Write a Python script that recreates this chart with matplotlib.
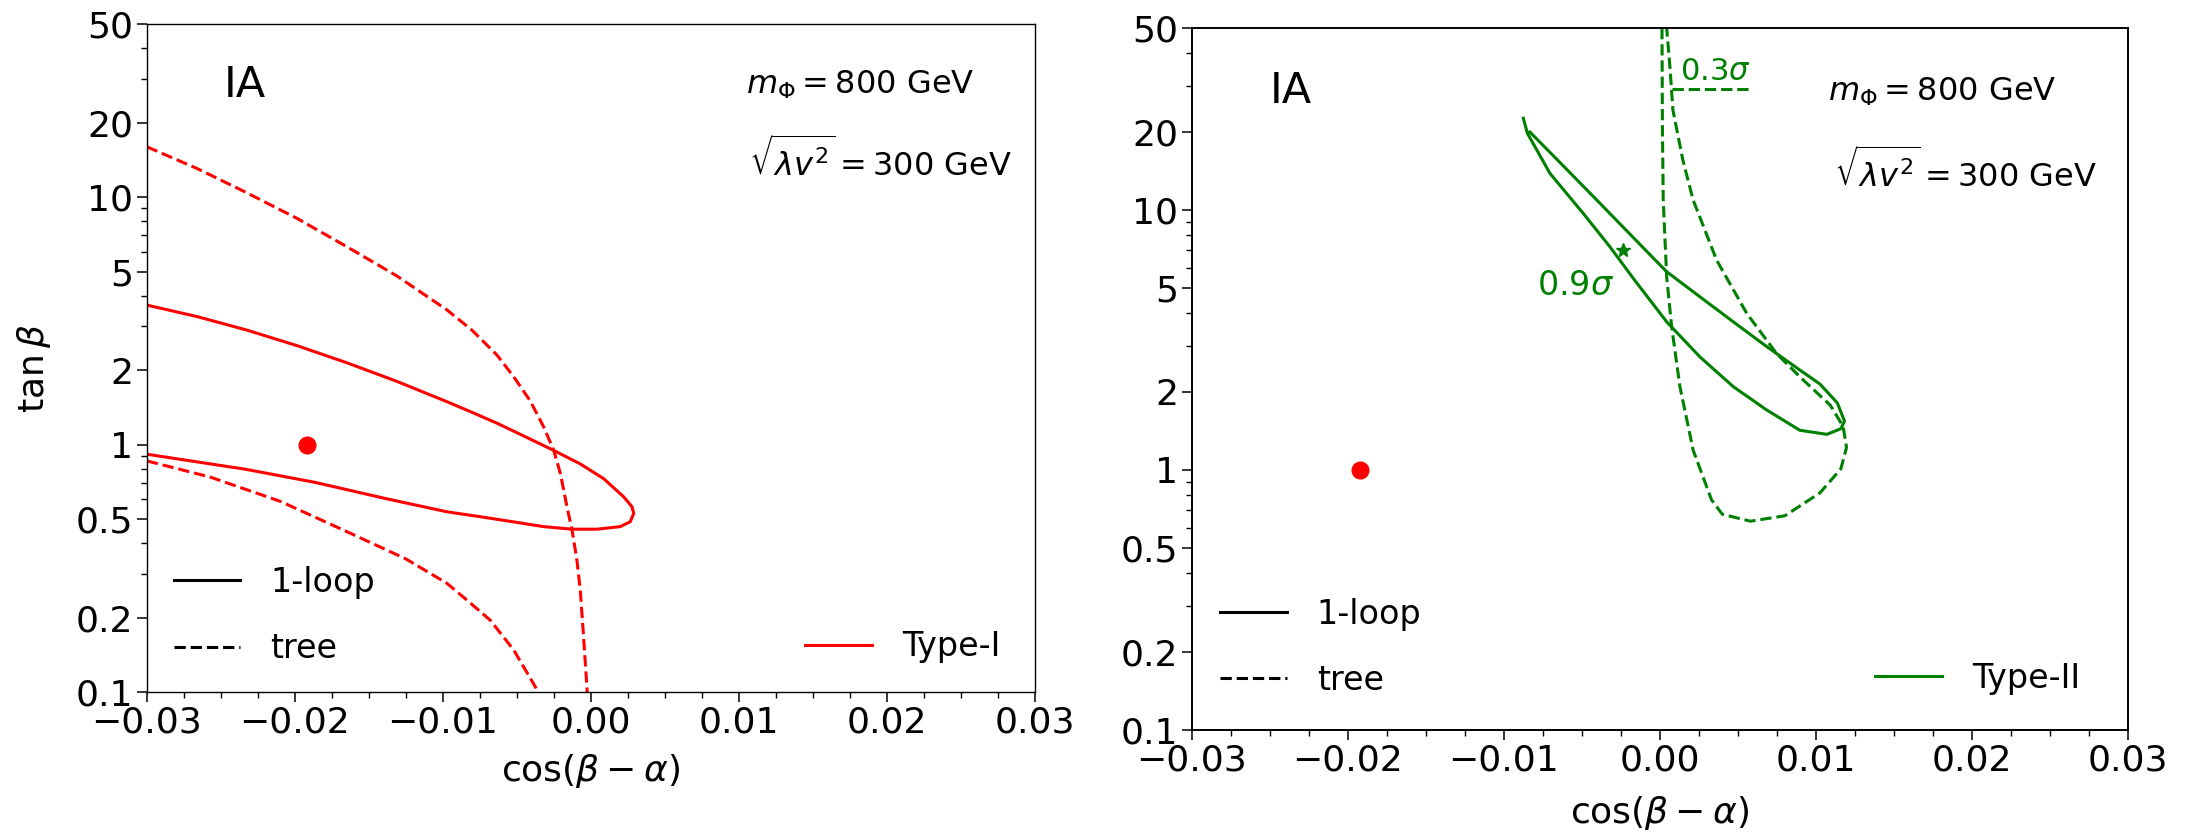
import matplotlib.pyplot as plt
from matplotlib.lines import Line2D
from matplotlib.ticker import FixedLocator, MultipleLocator, LogLocator, NullFormatter

# axis ticks
xticks = [-0.03, -0.02, -0.01, 0.00, 0.01, 0.02, 0.03]
xtick_labels = ["\u22120.03", "\u22120.02", "\u22120.01", "0.00", "0.01", "0.02", "0.03"]
yticks = [0.1, 0.2, 0.5, 1, 2, 5, 10, 20, 50]
ytick_labels = ["0.1", "0.2", "0.5", "1", "2", "5", "10", "20", "50"]

# benchmark point (both panels)
pt_x = [-0.0192]
pt_y = [1.0]

# left panel, Type-I
t1_loop_x = [-0.030, -0.02662, -0.02324, -0.01986, -0.01649, -0.01311, -0.00973, -0.00804,
             -0.00635, -0.00444, -0.00252, -0.00072, 0.00086, 0.00221, 0.00277, 0.00289,
             0.00266, 0.00198, 0.00041, -0.00128, -0.0032, -0.00522, -0.00748, -0.00973,
             -0.01387, -0.01862, -0.02336, -0.030]
t1_loop_y = [3.66, 3.29, 2.90, 2.51, 2.14, 1.80, 1.49, 1.35,
             1.22, 1.076, 0.947, 0.835, 0.728, 0.615, 0.561, 0.527,
             0.488, 0.466, 0.455, 0.455, 0.466, 0.487, 0.511, 0.535,
             0.605, 0.703, 0.795, 0.914]
t1_tree_up_x = [-0.030, -0.02662, -0.02324, -0.01986, -0.01649, -0.01311, -0.00973, -0.00804,
                -0.00635, -0.00522, -0.0041, -0.0032, -0.00252, -0.00207, -0.00162, -0.00128,
                -0.00095, -0.00072, -0.0005, -0.00025]
t1_tree_up_y = [15.96, 13.05, 10.4, 8.2, 6.3, 4.8, 3.5, 2.9,
                2.3, 1.88, 1.50, 1.18, 0.95, 0.766, 0.561, 0.452,
                0.342, 0.258, 0.168, 0.1]
t1_tree_lo_x = [-0.030, -0.0257, -0.021, -0.01625, -0.0125, -0.00973, -0.00826, -0.0068,
                -0.00522, -0.00376, -0.0036]
t1_tree_lo_y = [0.859, 0.738, 0.59, 0.438, 0.345, 0.275, 0.232, 0.195,
                0.148, 0.105, 0.1]

# right panel, Type-II
t2_loop_x = [-0.00876, -0.0085, -0.00705, -0.00492, -0.00321, -0.00171, 0.00043, 0.00256,
             0.0047, 0.00684, 0.00897, 0.0107, 0.0116, 0.01183, 0.01137, 0.01025,
             0.00897, 0.00684, 0.0047, 0.00256, 0.00043, -0.00128, -0.00385, -0.00641,
             -0.00833]
t2_loop_y = [22.5, 19.7, 13.8, 9.69, 7.21, 5.45, 3.71, 2.72,
             2.09, 1.70, 1.42, 1.37, 1.44, 1.54, 1.81, 2.14,
             2.42, 2.98, 3.71, 4.63, 5.78, 7.36, 10.6, 15.2,
             19.9]
t2_tree_x = [0.00013, 0.00016, 0.00021, 0.00043, 0.00075, 0.00128, 0.00213, 0.00331,
             0.0040, 0.0058, 0.0080, 0.01025, 0.0116, 0.01196, 0.01174, 0.01093,
             0.00897, 0.00748, 0.00556, 0.00363, 0.00213, 0.00147, 0.00083, 0.00064,
             0.00043]
t2_tree_y = [50, 20, 10.9, 5.53, 3.55, 2.09, 1.19, 0.766,
             0.675, 0.635, 0.666, 0.815, 1.01, 1.22, 1.47, 1.77,
             2.28, 2.80, 4.0, 6.41, 10.9, 15.5, 24.2, 35.4,
             50]
t2_tree_bar_x = [0.00077, 0.0058]
t2_tree_bar_y = [29.1, 29.1]
t2_star_x = [-0.00237]
t2_star_y = [7.0]


def style(ax, spine_w):
    ax.set_yscale("log")
    ax.set_xlim(-0.03, 0.03)
    ax.set_ylim(0.1, 50)
    ax.xaxis.set_major_locator(FixedLocator(xticks))
    ax.set_xticklabels(xtick_labels)
    ax.xaxis.set_minor_locator(MultipleLocator(0.0025))
    ax.yaxis.set_major_locator(FixedLocator(yticks))
    ax.set_yticklabels(ytick_labels)
    ax.yaxis.set_minor_locator(LogLocator(base=10, subs=range(2, 10), numticks=20))
    ax.yaxis.set_minor_formatter(NullFormatter())
    ax.tick_params(which="major", length=7, width=1.1, labelsize=26, pad=3)
    ax.tick_params(which="minor", length=4, width=1.0)
    for s in ax.spines.values():
        s.set_linewidth(spine_w)
    ax.set_xlabel(r"$\cos(\beta-\alpha)$", fontsize=26)


def legends(ax, color, name, y0, y2, x2):
    h = [Line2D([], [], color="k", lw=2.2, ls="-", label="1-loop"),
         Line2D([], [], color="k", lw=2.2, ls="--", label="tree")]
    kw = dict(frameon=False, fontsize=24, handlelength=2.0, handletextpad=0.9,
              labelspacing=1.0, borderpad=0, borderaxespad=0, loc="lower left")
    leg = ax.legend(handles=h, bbox_to_anchor=(0.03, y0), **kw)
    ax.add_artist(leg)
    ax.legend(handles=[Line2D([], [], color=color, lw=2.2, label=name)],
              bbox_to_anchor=(x2, y2), **kw)


fig = plt.figure(figsize=(21.96, 8.36), dpi=100)
ax1 = fig.add_axes([0.0669, 0.1722, 0.4044, 0.799])
ax2 = fig.add_axes([0.5428, 0.1268, 0.4262, 0.8397])

# left
style(ax1, 1.0)
ax1.plot(t1_loop_x, t1_loop_y, color="red", lw=2.2)
ax1.plot(t1_tree_up_x, t1_tree_up_y, color="red", lw=2.2, ls="--")
ax1.plot(t1_tree_lo_x, t1_tree_lo_y, color="red", lw=2.2, ls="--")
ax1.plot(pt_x, pt_y, "o", color="red", ms=12)
ax1.set_ylabel(r"$\tan\beta$", fontsize=26)
ax1.yaxis.set_label_coords(-0.106, 0.485)
ax1.xaxis.set_label_coords(0.5, -0.09)
ax1.text(0.087, 0.909, "IA", transform=ax1.transAxes, fontsize=31, va="center")
ax1.text(0.803, 0.909, r"$m_{\Phi} = 800$ GeV", transform=ax1.transAxes,
         fontsize=23, va="center", ha="center")
ax1.text(0.826, 0.796, r"$\sqrt{\lambda v^2} = 300$ GeV", transform=ax1.transAxes,
         fontsize=23, va="center", ha="center")
legends(ax1, "red", "Type-I", 0.04, 0.043, 0.741)

# right
style(ax2, 1.4)
ax2.plot(t2_loop_x, t2_loop_y, color="green", lw=2.2)
ax2.plot(t2_tree_x, t2_tree_y, color="green", lw=2.2, ls="--")
ax2.plot(t2_tree_bar_x, t2_tree_bar_y, color="green", lw=2.2, ls="--")
ax2.plot(t2_star_x, t2_star_y, "*", color="green", ms=10)
ax2.plot(pt_x, pt_y, "o", color="red", ms=12)
ax2.text(0.00128, 33.9, r"$0.3\sigma$", color="green", fontsize=22, va="center")
ax2.text(-0.0079, 5.1, r"$0.9\sigma$", color="green", fontsize=24, va="center")
ax2.xaxis.set_label_coords(0.5, -0.091)
ax2.text(0.083, 0.910, "IA", transform=ax2.transAxes, fontsize=31, va="center")
ax2.text(0.802, 0.909, r"$m_{\Phi} = 800$ GeV", transform=ax2.transAxes,
         fontsize=23, va="center", ha="center")
ax2.text(0.826, 0.796, r"$\sqrt{\lambda v^2} = 300$ GeV", transform=ax2.transAxes,
         fontsize=23, va="center", ha="center")
legends(ax2, "green", "Type-II", 0.047, 0.05, 0.730)

fig.savefig("out.png", dpi=100)
